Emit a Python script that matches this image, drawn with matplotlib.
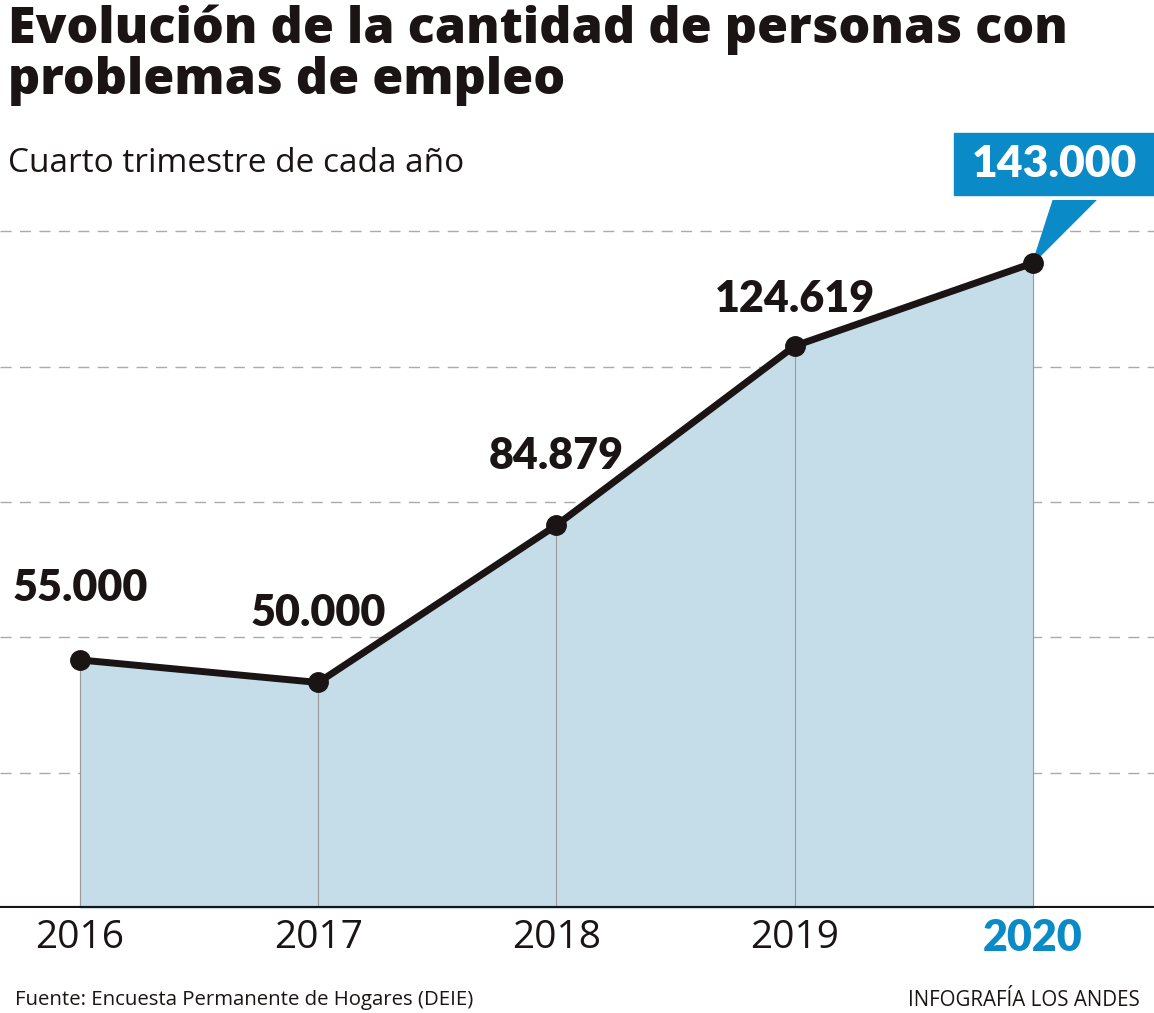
import numpy as np
import matplotlib.pyplot as plt
from matplotlib.patches import Polygon, Rectangle

years = [2016, 2017, 2018, 2019, 2020]
values = [55000, 50000, 84879, 124619, 143000]
labels = ["55.000", "50.000", "84.879", "124.619", "143.000"]
grid_values = [30000, 60000, 90000, 120000, 150000]

W, H = 1154, 1013
fig = plt.figure(figsize=(W / 100, H / 100), dpi=100)

narrow = ["Open Sans", "DejaVu Sans"]
wide = ["Lato", "DejaVu Sans"]
blue = "#0a8ac6"
fill_col = "#c5dce9"
ink = "#1b1414"

# axes placed in pixel coords: baseline at y=908, top at y=200
base_px, top_px = 908, 200
px_per_unit = 0.00451
ax = fig.add_axes([0, (H - base_px) / H, 1, (base_px - top_px) / H])
ax.set_xlim(2016 - 80 / 238, 2020 + (W - 1033) / 238)
ax.set_ylim(0, (base_px - top_px) / px_per_unit)
ax.axis("off")

for g in grid_values:
    ax.axhline(g, color="#aaaaaa", lw=1, ls=(0, (8, 6)), zorder=1)

ax.fill_between(years, values, 0, color=fill_col, zorder=2)
for x, v in zip(years, values):
    ax.plot([x, x], [0, v], color="#9a9a9a", lw=0.8, zorder=3)
ax.plot(years, values, color=ink, lw=5, marker="o", ms=14, zorder=5,
        solid_capstyle="round")
ax.axhline(0, color=ink, lw=3, zorder=6)

offsets = [(0, 52), (0, 50), (0, 50), (0, 34)]
for x, v, lab, off in zip(years[:4], values[:4], labels[:4], offsets):
    ax.annotate(lab, (x, v), xytext=off, textcoords="offset points",
                ha="center", va="center", fontsize=31, fontweight="heavy",
                family=wide, color=ink, zorder=7)

# callout for the last value
x_last, v_last = years[-1], values[-1]
box_l, box_r = 2020 - 79 / 238, 2020 + (W - 1033) / 238
box_b = (base_px - 195) / px_per_unit
box_t = (base_px - 133) / px_per_unit
ax.add_patch(Rectangle((box_l, box_b), box_r - box_l, box_t - box_b,
                       color=blue, zorder=8, clip_on=False))
ax.add_patch(Polygon([[2020 + 22 / 238, box_b + 10], [2020 + 68 / 238, box_b + 10],
                      [x_last, v_last]], closed=True, color=blue, zorder=4))
ax.text(2020 + 22 / 238, (box_b + box_t) / 2, labels[-1], ha="center", va="center",
        fontsize=32, fontweight="heavy", family=wide, color="white", zorder=9)

for x in years:
    is_last = x == years[-1]
    ax.text(x, -30 / px_per_unit, str(x), ha="center", va="center",
            fontsize=31 if is_last else 28,
            family=wide if is_last else narrow,
            fontweight="heavy" if is_last else "normal",
            color=blue if is_last else ink)

fig.text(8 / W, 1 - 55 / H, "Evolución de la cantidad de personas con\nproblemas de empleo",
         ha="left", va="center", fontsize=36.2, fontweight=800, family=narrow,
         color=ink, linespacing=1.02)
fig.text(8 / W, 1 - 163 / H, "Cuarto trimestre de cada año", ha="left", va="center",
         fontsize=24, family=narrow, color=ink)
fig.text(15 / W, 1 - 1000 / H, "Fuente: Encuesta Permanente de Hogares (DEIE)",
         ha="left", va="center", fontsize=14.7, family=narrow, color=ink)
fig.text(1140 / W, 1 - 1000 / H, "INFOGRAFÍA LOS ANDES",
         ha="right", va="center", fontsize=14.8, family=narrow, color=ink)

fig.savefig("out.png", dpi=100)
